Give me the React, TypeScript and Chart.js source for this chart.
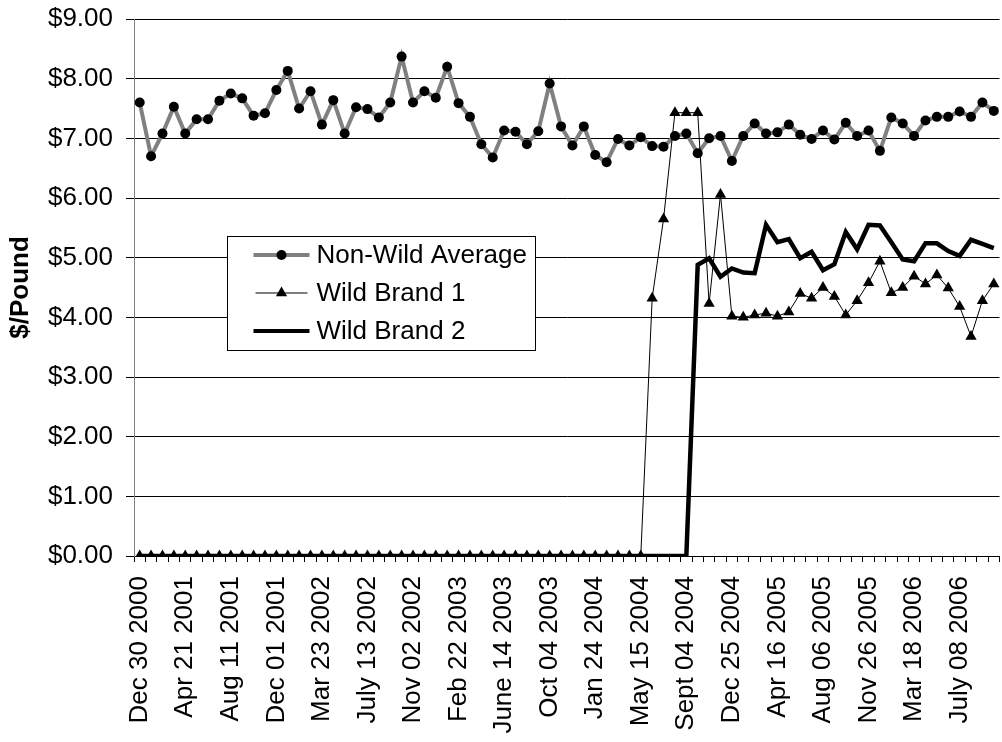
import React, { useEffect, useRef } from 'react';
import { Chart, registerables } from 'chart.js';

Chart.register(...registerables);

// Tick labels shown every 4th period (4-week periods)
const tickLabels = [
  'Dec 30 2000', 'Apr 21 2001', 'Aug 11 2001', 'Dec 01 2001', 'Mar 23 2002',
  'July 13 2002', 'Nov 02 2002', 'Feb 22 2003', 'June 14 2003', 'Oct 04 2003',
  'Jan 24 2004', 'May 15 2004', 'Sept 04 2004', 'Dec 25 2004', 'Apr 16 2005',
  'Aug 06 2005', 'Nov 26 2005', 'Mar 18 2006', 'July 08 2006',
];

const nonWildAverage = [
  7.60, 6.70, 7.08, 7.53, 7.08, 7.32, 7.32, 7.63, 7.75, 7.67,
  7.38, 7.42, 7.81, 8.13, 7.50, 7.79, 7.23, 7.64, 7.08, 7.52,
  7.49, 7.35, 7.60, 8.37, 7.60, 7.79, 7.68, 8.20, 7.59, 7.36,
  6.90, 6.68, 7.13, 7.11, 6.90, 7.12, 7.92, 7.20, 6.88, 7.20,
  6.72, 6.60, 6.99, 6.88, 7.02, 6.87, 6.86, 7.04, 7.08, 6.75,
  7.00, 7.04, 6.62, 7.04, 7.25, 7.08, 7.10, 7.23, 7.06, 6.99,
  7.13, 6.98, 7.26, 7.04, 7.13, 6.79, 7.35, 7.25, 7.04, 7.30,
  7.36, 7.36, 7.45, 7.36, 7.60, 7.46,
];

const wildBrand1 = [
  0, 0, 0, 0, 0, 0, 0, 0, 0, 0,
  0, 0, 0, 0, 0, 0, 0, 0, 0, 0,
  0, 0, 0, 0, 0, 0, 0, 0, 0, 0,
  0, 0, 0, 0, 0, 0, 0, 0, 0, 0,
  0, 0, 0, 0, 0, 4.32, 5.65, 7.43, 7.43, 7.43,
  4.23, 6.06, 4.02, 4.00, 4.04, 4.07, 4.02, 4.09, 4.40, 4.32,
  4.50, 4.35, 4.04, 4.28, 4.58, 4.94, 4.41, 4.50, 4.69, 4.56,
  4.71, 4.49, 4.18, 3.68, 4.28, 4.56,
];

const wildBrand2 = [
  0, 0, 0, 0, 0, 0, 0, 0, 0, 0,
  0, 0, 0, 0, 0, 0, 0, 0, 0, 0,
  0, 0, 0, 0, 0, 0, 0, 0, 0, 0,
  0, 0, 0, 0, 0, 0, 0, 0, 0, 0,
  0, 0, 0, 0, 0, 0, 0, 0, 0, 4.88,
  4.99, 4.68, 4.82, 4.75, 4.74, 5.55, 5.26, 5.31, 4.99, 5.10,
  4.79, 4.89, 5.43, 5.14, 5.55, 5.54, 5.26, 4.97, 4.94, 5.24,
  5.24, 5.11, 5.03, 5.30, 5.23, 5.16,
];

const seriesNames = ['Non-Wild Average', 'Wild Brand 1', 'Wild Brand 2'];
const yMin = 0;
const yMax = 9;
const yStep = 1;

const categories = nonWildAverage.map((_, i) => (i % 4 === 0 ? tickLabels[i / 4] : ''));

const FONT = '"Liberation Sans", Arial, sans-serif';

const boxLegend = {
  id: 'boxLegend',
  afterDraw(chart: any) {
    const { ctx, chartArea } = chart;
    const x0 = Math.round(chartArea.left + 93) + 0.5;
    const y0 = Math.round(chartArea.top + 217) + 0.5;
    const w = 308;
    const h = 114;
    ctx.save();
    ctx.fillStyle = '#ffffff';
    ctx.fillRect(x0, y0, w, h);
    ctx.strokeStyle = '#000000';
    ctx.lineWidth = 1;
    ctx.strokeRect(x0, y0, w, h);

    const rowY = [y0 + 18.5, y0 + 56.5, y0 + 94.5];
    const lx1 = x0 + 26;
    const lx2 = x0 + 82;
    const mx = (lx1 + lx2) / 2;
    const tx = x0 + 89;

    // Row 1: gray thick line + circle
    ctx.strokeStyle = '#808080';
    ctx.lineWidth = 4;
    ctx.beginPath();
    ctx.moveTo(lx1, rowY[0]);
    ctx.lineTo(lx2, rowY[0]);
    ctx.stroke();
    ctx.fillStyle = '#000';
    ctx.beginPath();
    ctx.arc(mx, rowY[0], 5, 0, Math.PI * 2);
    ctx.fill();

    // Row 2: thin black line + triangle
    ctx.strokeStyle = '#000';
    ctx.lineWidth = 1;
    ctx.beginPath();
    ctx.moveTo(lx1 + 2, rowY[1]);
    ctx.lineTo(lx2 - 2, rowY[1]);
    ctx.stroke();
    const r = 6.5;
    ctx.beginPath();
    ctx.moveTo(mx, rowY[1] - r);
    ctx.lineTo(mx + r * Math.sin((2 * Math.PI) / 3), rowY[1] - r * Math.cos((2 * Math.PI) / 3));
    ctx.lineTo(mx + r * Math.sin((4 * Math.PI) / 3), rowY[1] - r * Math.cos((4 * Math.PI) / 3));
    ctx.closePath();
    ctx.fill();

    // Row 3: thick black line
    ctx.lineWidth = 4;
    ctx.beginPath();
    ctx.moveTo(lx1, rowY[2]);
    ctx.lineTo(lx2, rowY[2]);
    ctx.stroke();

    ctx.fillStyle = '#000';
    ctx.font = `26px ${FONT}`;
    ctx.textAlign = 'left';
    ctx.textBaseline = 'middle';
    seriesNames.forEach((name, i) => ctx.fillText(name, tx, rowY[i] + 1));
    ctx.restore();
  },
};

export default function App() {
  const canvasRef = useRef<HTMLCanvasElement | null>(null);

  useEffect(() => {
    if (!canvasRef.current) return;
    Chart.defaults.font.family = FONT;
    const chart = new Chart(canvasRef.current, {
      type: 'line',
      data: {
        labels: categories,
        datasets: [
          {
            label: seriesNames[0],
            data: nonWildAverage,
            borderColor: '#808080',
            borderWidth: 4,
            pointStyle: 'circle',
            pointRadius: 5,
            pointBackgroundColor: '#000',
            pointBorderColor: '#000',
            pointBorderWidth: 0,
            tension: 0,
            order: 2,
          },
          {
            label: seriesNames[1],
            data: wildBrand1,
            borderColor: '#000',
            borderWidth: 1,
            pointStyle: 'triangle',
            pointRadius: 6.5,
            pointBackgroundColor: '#000',
            pointBorderColor: '#000',
            pointBorderWidth: 0,
            tension: 0,
            order: 1,
          },
          {
            label: seriesNames[2],
            data: wildBrand2,
            borderColor: '#000',
            borderWidth: 4.5,
            pointRadius: 0,
            tension: 0,
            order: 0,
          },
        ],
      },
      options: {
        animation: false,
        responsive: false,
        maintainAspectRatio: false,
        events: [],
        layout: { padding: { top: 19, right: 0, bottom: 0, left: 0 } },
        plugins: {
          legend: { display: false },
          tooltip: { enabled: false },
        },
        scales: {
          x: {
            type: 'category',
            offset: true,
            grid: {
              offset: true,
              drawOnChartArea: false,
              drawTicks: true,
              tickLength: 6,
              color: '#000',
            },
            border: { color: '#000', width: 1 },
            ticks: {
              autoSkip: false,
              maxRotation: 90,
              minRotation: 90,
              padding: 14,
              color: '#000',
              font: { size: 26, family: FONT },
            },
            afterFit: (s: any) => {
              s.height = 186;
              s.paddingLeft = 0;
              s.paddingRight = 0;
            },
          },
          y: {
            min: yMin,
            max: yMax,
            ticks: {
              stepSize: yStep,
              padding: 13,
              color: '#000',
              font: { size: 26, family: FONT },
              callback: (v: any) => '$' + Number(v).toFixed(2),
            },
            grid: { color: '#000', lineWidth: 1, tickLength: 8 },
            border: { color: '#808080', width: 1 },
            title: {
              display: true,
              text: '$/Pound',
              color: '#000',
              font: { size: 26, weight: 'bold', family: FONT },
              padding: { top: 5, bottom: 0 },
            },
            afterFit: (s: any) => {
              s.width = 134;
              s.paddingTop = 0;
              s.paddingBottom = 0;
            },
          },
        },
      },
      plugins: [boxLegend],
    });
    return () => chart.destroy();
  }, []);

  return (
    <div
      style={{
        position: 'absolute',
        left: 0,
        top: 0,
        width: 1002,
        height: 742,
        overflow: 'hidden',
        background: '#fff',
      }}
    >
      <canvas
        ref={canvasRef}
        width={1006}
        height={742}
        style={{ display: 'block', width: 1006, height: 742 }}
      />
    </div>
  );
}
